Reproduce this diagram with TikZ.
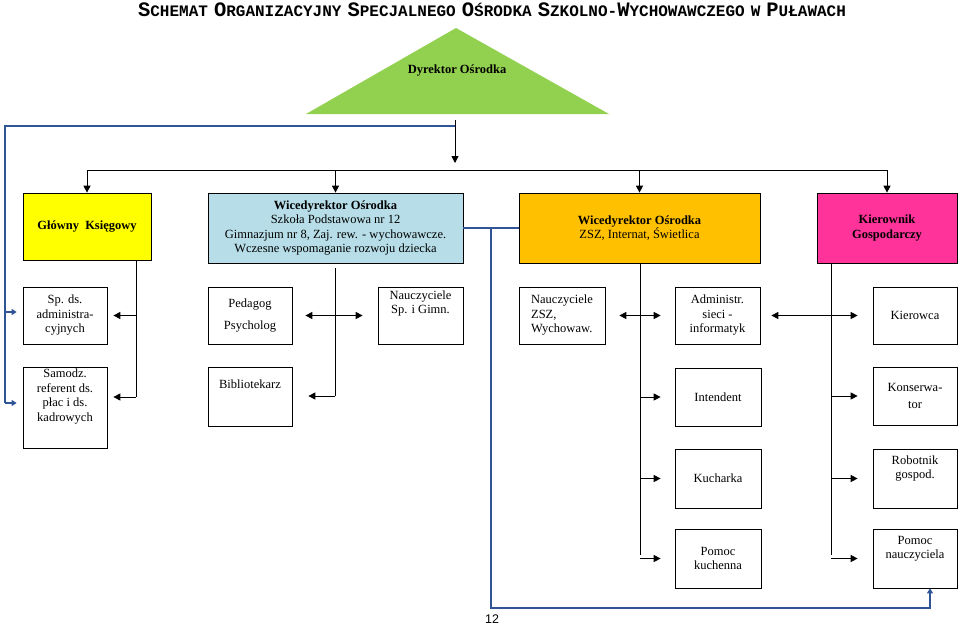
\documentclass[tikz,border=0pt]{standalone}
\usepackage{fontspec}
\setmainfont{Liberation Serif}
\newfontfamily\monofont{Liberation Mono}
\newfontfamily\pagefont{Liberation Sans}
\usetikzlibrary{arrows.meta}
\definecolor{ggreen}{HTML}{92D050}
\definecolor{gyellow}{HTML}{FFFF00}
\definecolor{gblue}{HTML}{B7DEE8}
\definecolor{gorange}{HTML}{FFC000}
\definecolor{gpink}{HTML}{FF3399}
\definecolor{linkblue}{HTML}{2F5597}
\newcommand{\capword}[2]{{\fontsize{20.5}{22}\selectfont #1}{\fontsize{16}{22}\selectfont #2}}
\tikzset{
  unit/.style={draw, line width=0.7pt, align=center, inner sep=2pt,
    font=\fontsize{12.5}{14.5}\selectfont},
  head/.style={unit, font=\bfseries\fontsize{12.5}{14.5}\selectfont},
  link/.style={line width=0.9pt, -{Triangle[width=7pt,length=7pt]}},
  both/.style={link, {Triangle[width=7pt,length=7pt]}-{Triangle[width=7pt,length=7pt]}},
  plain/.style={line width=0.9pt},
  blue link/.style={line width=1.3pt, draw=linkblue, -{Triangle[width=6pt,length=5pt]}},
}
\begin{document}
\begin{tikzpicture}[x=1pt,y=-1pt]
  \useasboundingbox (0,0) rectangle (960,626);

  % Title
  \node (title) at (492,10) {\monofont\bfseries \capword{S}{CHEMAT} \capword{O}{RGANIZACYJNY} \capword{S}{PECJALNEGO} \capword{O}{ŚRODKA} \capword{S}{ZKOLNO-}\capword{W}{YCHOWAWCZEGO} \capword{}{W} \capword{P}{UŁAWACH}};

  % Director
  \coordinate (apex) at (456,28);
  \coordinate (baseL) at (306,114);
  \coordinate (baseR) at (609,114);
  \fill[ggreen] (apex) -- (baseL) -- (baseR) -- cycle;
  \node[font=\bfseries\fontsize{12.5}{14.5}\selectfont] (dyr) at (457,71) {Dyrektor Ośrodka};

  % Top row
  \node[head, fill=gyellow, minimum width=128pt, minimum height=67pt] (glowny) at (87,226.5) {Główny~~Księgowy};
  \node[unit, fill=gblue, minimum width=255pt, minimum height=70pt] (wice1) at (335.5,228)
    {\textbf{Wicedyrektor Ośrodka}\\Szkoła Podstawowa nr 12\\Gimnazjum nr 8, Zaj. rew. - wychowawcze.\\Wczesne wspomaganie rozwoju dziecka};
  \node[unit, fill=gorange, minimum width=241pt, minimum height=70pt] (wice2) at (639.5,228)
    {\textbf{Wicedyrektor Ośrodka}\\ZSZ, Internat, Świetlica};
  \node[head, fill=gpink, minimum width=140pt, minimum height=70pt] (kier) at (887,228) {Kierownik\\Gospodarczy};

  % Second row
  \node[unit, minimum width=84pt, minimum height=57pt] (spds) at (65,315.5) {Sp. ds.\\administra-\\cyjnych};
  \node[unit, minimum width=84pt, minimum height=57pt] (ped) at (250,315.5) {Pedagog\\[8pt]Psycholog};
  \node[unit, minimum width=85pt, minimum height=57pt] (nsp) at (420.5,315.5) {Nauczyciele\\Sp. i Gimn.\\[12pt]};
  \node[unit, minimum width=86pt, minimum height=57pt, align=left] (nzsz) at (562,315.5) {Nauczyciele\\ZSZ,\\Wychowaw.};
  \node[unit, minimum width=85pt, minimum height=57pt] (adm) at (717.5,315.5) {Administr.\\sieci -\\informatyk};
  \node[unit, minimum width=84pt, minimum height=57pt] (kierowca) at (915,315.5) {Kierowca};

  % Third row
  \node[unit, minimum width=84pt, minimum height=81pt] (samodz) at (65,407.5) {Samodz.\\referent ds.\\płac i ds.\\kadrowych\\[10pt]};
  \node[unit, minimum width=84pt, minimum height=59pt] (bibl) at (250,396.5) {Bibliotekarz\\[10pt]};
  \node[unit, minimum width=86pt, minimum height=58pt] (intendent) at (718,397) {Intendent};
  \node[unit, minimum width=84pt, minimum height=58pt] (konserw) at (915,396) {Konserwa-\\[3pt]tor};

  % Fourth and fifth rows
  \node[unit, minimum width=86pt, minimum height=59pt] (kucharka) at (718,478.5) {Kucharka};
  \node[unit, minimum width=84pt, minimum height=59pt] (robotnik) at (915,478.5) {Robotnik\\gospod.\\[8pt]};
  \node[unit, minimum width=86pt, minimum height=59pt] (pkuch) at (718,558.5) {Pomoc\\kuchenna};
  \node[unit, minimum width=84pt, minimum height=59pt] (pnaucz) at (915,558.5) {Pomoc\\nauczyciela\\[8pt]};

  \node[font=\pagefont\fontsize{12.5}{14}\selectfont] (page) at (492,619) {12};

  % Junctions
  \coordinate (dyrlow) at (455,120);
  \coordinate (bus) at (455,170);
  \coordinate (gk) at (136,260);
  \coordinate (wk) at (335,268);
  \coordinate (ok) at (640,263);
  \coordinate (pk) at (831,263);

  % Director to heads
  \draw[link] (dyrlow) -- (455,163);
  \draw[plain] (glowny.north |- bus) -- (kier.north |- bus);
  \foreach \n in {glowny, wice1, wice2, kier}
    \draw[link] (\n.north |- bus) -- (\n.north);

  % Główny Księgowy
  \draw[plain] (gk) -- (136,397);
  \draw[link] (gk |- spds.east) -- ([xshift=6pt]spds.east);
  \draw[link] (136,397) -- ([xshift=6pt]samodz.east |- 0,397);

  % Wicedyrektor (SP)
  \draw[plain] (wk) -- (335,396);
  \draw[both] ([xshift=13pt]ped.east) -- ([xshift=-15pt]nsp.west);
  \draw[link] (335,396) -- ([xshift=16pt]bibl.east |- 0,396);

  % Wicedyrektor (ZSZ)
  \draw[plain] (ok) -- (640,555);
  \draw[both] ([xshift=14pt]nzsz.east) -- ([xshift=-14pt]adm.west);
  \foreach \n in {intendent, kucharka, pkuch}
    \draw[link] (ok |- \n.west) -- ([xshift=-14pt]\n.west);

  % Kierownik Gospodarczy
  \draw[plain] (pk) -- (831,555);
  \draw[both] ([xshift=11pt]adm.east) -- ([xshift=-15pt]kierowca.west);
  \foreach \n in {konserw, robotnik, pnaucz}
    \draw[link] (pk |- \n.west) -- ([xshift=-15pt]\n.west);

  % Blue links
  \draw[line width=1.3pt, draw=linkblue] (455,126) -- (5,126) -- (5,403);
  \draw[blue link] (5,312) -- ([xshift=-6pt]spds.west |- 0,312);
  \draw[blue link] (5,403) -- ([xshift=-6pt]samodz.west |- 0,403);
  \draw[line width=1.3pt, draw=linkblue] (wice1.east) -- (wice2.west);
  \draw[blue link] (491,227) -- (491,608) -- (930,608) -- (pnaucz.south -| 930,0);
\end{tikzpicture}
\end{document}
